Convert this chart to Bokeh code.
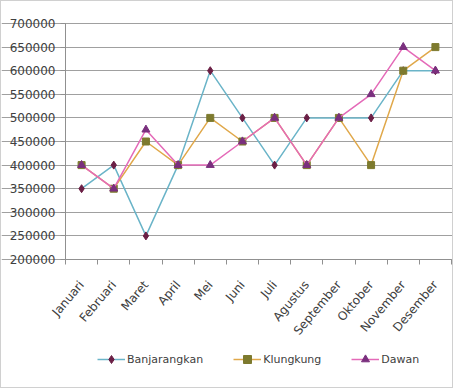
from bokeh.plotting import figure
from bokeh.models import Range1d, FixedTicker, NumeralTickFormatter, Legend, LegendItem
from bokeh.embed import file_html
from bokeh.resources import INLINE

months = ["Januari", "Februari", "Maret", "April", "Mei", "Juni", "Juli",
          "Agustus", "September", "Oktober", "November", "Desember"]
banjarangkan = [350000, 400000, 250000, 400000, 600000, 500000, 400000,
                500000, 500000, 500000, 600000, 600000]
klungkung = [400000, 350000, 450000, 400000, 500000, 450000, 500000,
             400000, 500000, 400000, 600000, 650000]
dawan = [400000, 350000, 475000, 400000, 400000, 450000, 500000,
         400000, 500000, 550000, 650000, 600000]
y_ticks = [200000, 250000, 300000, 350000, 400000, 450000, 500000,
           550000, 600000, 650000, 700000]

FONT = "DejaVu Sans"
Y_MIN, Y_MAX = 200000, 700000
N = len(months)
x_pos = [i + 0.5 for i in range(N)]          # category centres
x_bounds = list(range(N + 1))                # category boundaries

# layout: value area 64..450 px horizontally, 22..258 px vertically
PLOT_W, PLOT_H = 386, 236
LEFT_PAD, RIGHT_PAD = 64, 1
TOP_PAD, BOTTOM_PAD = 22, 128
FRAME_W = LEFT_PAD + PLOT_W + RIGHT_PAD
FRAME_H = TOP_PAD + PLOT_H + BOTTOM_PAD
unit = PLOT_W / N
per_px = (Y_MAX - Y_MIN) / PLOT_H

p = figure(frame_width=FRAME_W, frame_height=FRAME_H,
           x_range=Range1d(-LEFT_PAD / unit, N + RIGHT_PAD / unit),
           y_range=Range1d(Y_MIN - BOTTOM_PAD * per_px, Y_MAX + TOP_PAD * per_px),
           output_backend="svg", toolbar_location=None,
           min_border_left=0, min_border_right=0, min_border_top=0,
           min_border_bottom=0)
p.styles = {"border": "1px solid #d0d0d0"}
p.outline_line_color = None
p.background_fill_color = "white"

p.yaxis.fixed_location = 0
p.yaxis.ticker = FixedTicker(ticks=y_ticks)
p.yaxis.bounds = (Y_MIN, Y_MAX)
p.yaxis.formatter = NumeralTickFormatter(format="0")
p.yaxis.major_label_text_font = FONT
p.yaxis.major_label_text_font_size = "12px"
p.yaxis.major_label_text_color = "#404040"
p.yaxis.major_label_standoff = 5
p.yaxis.axis_line_color = "#909090"
p.yaxis.major_tick_line_color = "#909090"
p.yaxis.major_tick_out = 5
p.yaxis.major_tick_in = 0
p.yaxis.minor_tick_line_color = None

p.xaxis.fixed_location = Y_MIN
p.xaxis.ticker = FixedTicker(ticks=x_pos, minor_ticks=x_bounds)
p.xaxis.major_label_overrides = {x: m for x, m in zip(x_pos, months)}
p.xaxis.bounds = (0, N)
p.xaxis.major_label_orientation = 0.87
p.xaxis.major_label_text_font = FONT
p.xaxis.major_label_text_font_size = "12px"
p.xaxis.major_label_text_color = "#404040"
p.xaxis.major_label_standoff = 17
p.xaxis.axis_line_color = "#909090"
p.xaxis.major_tick_line_color = None
p.xaxis.minor_tick_line_color = "#909090"
p.xaxis.minor_tick_out = 5
p.xaxis.minor_tick_in = 0

p.xgrid.grid_line_color = None
p.ygrid.grid_line_color = "#a0a0a0"
p.ygrid.grid_line_width = 1
p.ygrid.bounds = (0, N)

series = [
    ("Banjarangkan", banjarangkan, "#6ab4c8", "#6b1f45", "diamond", 8),
    ("Klungkung", klungkung, "#e0a84a", "#7d7a2e", "square", 7),
    ("Dawan", dawan, "#e46ab8", "#7a2f7e", "triangle", 8),
]

items = []
for name, vals, lc, mc, marker, size in series:
    r1 = p.line(x_pos, vals, line_color=lc, line_width=1.5)
    r2 = p.scatter(x_pos, vals, marker=marker, size=size, fill_color=mc,
                   line_color=mc)
    items.append(LegendItem(label=name, renderers=[r1, r2]))

legend = Legend(items=items, orientation="horizontal", location=(96, 18),
                label_text_font=FONT, label_text_font_size="11px",
                label_text_color="#404040", border_line_color=None,
                background_fill_alpha=0,
                spacing=30, glyph_width=28, label_standoff=2, padding=0,
                margin=0)
p.add_layout(legend, "center")

open("out.html", "w").write(file_html(p, INLINE))
